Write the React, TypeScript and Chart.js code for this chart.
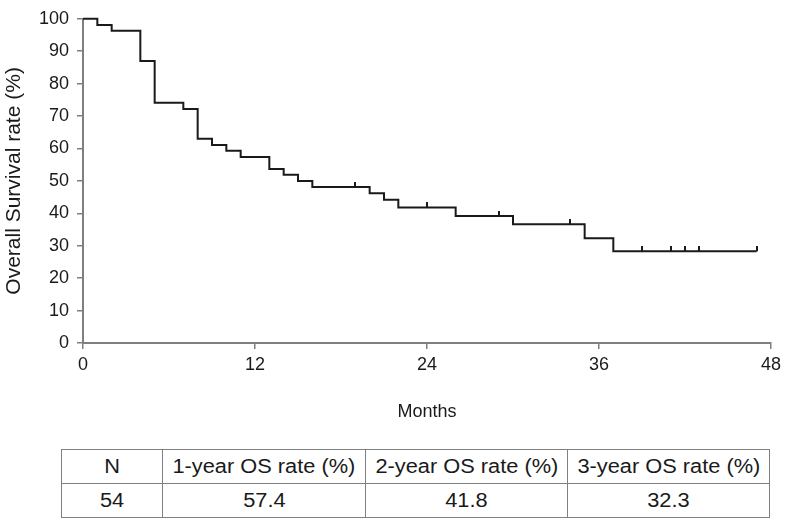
import React, { useEffect, useRef } from 'react';
import { Chart, registerables } from 'chart.js';

Chart.register(...registerables);

// Kaplan-Meier step points (month, overall survival %)
const eventMonths = [0, 1, 2, 4, 5, 7, 8, 9, 10, 11, 13, 14, 15, 16, 20, 21, 22, 26, 30, 35, 37, 47];
const survival = [100, 98.1, 96.3, 87.0, 74.1, 72.2, 63.0, 61.1, 59.3, 57.4, 53.7, 51.9, 50.0, 48.1, 46.2, 44.2, 41.8, 39.2, 36.6, 32.3, 28.3, 28.3];
// censored observations (months)
const censorMonths = [19, 24, 29, 34, 39, 41, 42, 43, 47];
const xTicks = [0, 12, 24, 36, 48];
const yTicks = [0, 10, 20, 30, 40, 50, 60, 70, 80, 90, 100];

const tableHeader = ['N', '1-year OS rate (%)', '2-year OS rate (%)', '3-year OS rate (%)'];
const tableValues = ['54', '57.4', '41.8', '32.3'];
const colWidths = [101, 203, 202, 202];

const FONT = "'Liberation Sans', Arial, sans-serif";
const AXIS_GRAY = '#7f7f7f';
const INK = '#1a1a1a';

function levelAt(t: number): number {
  let v = survival[0];
  for (let i = 0; i < eventMonths.length; i++) {
    if (eventMonths[i] <= t) v = survival[i];
  }
  return v;
}

function makeCensorMark(): HTMLCanvasElement {
  const c = document.createElement('canvas');
  c.width = 2;
  c.height = 10;
  const g = c.getContext('2d')!;
  g.fillStyle = INK;
  g.fillRect(0, 0, 2, 5);
  return c;
}

export default function App() {
  const ref = useRef<HTMLCanvasElement | null>(null);

  useEffect(() => {
    if (!ref.current) return;
    const mark = makeCensorMark();
    const chart = new Chart(ref.current, {
      type: 'line',
      data: {
        datasets: [
          {
            data: eventMonths.map((m, i) => ({ x: m, y: survival[i] })),
            stepped: true,
            borderColor: INK,
            borderWidth: 2,
            pointRadius: 0,
            fill: false,
            clip: false as any,
          },
          {
            data: censorMonths.map((m) => ({ x: m, y: levelAt(m) })),
            showLine: false,
            pointStyle: mark as any,
            pointRadius: 5,
            borderColor: INK,
            backgroundColor: INK,
            clip: false as any,
          },
        ],
      },
      options: {
        responsive: false,
        animation: false,
        events: [],
        devicePixelRatio: 1,
        layout: { padding: { left: 0, right: 13, top: 10, bottom: 0 } },
        plugins: {
          legend: { display: false },
          tooltip: { enabled: false },
        },
        scales: {
          x: {
            type: 'linear',
            min: 0,
            max: 48,
            afterBuildTicks: (s: any) => {
              s.ticks = xTicks.map((v) => ({ value: v }));
            },
            afterFit: (s: any) => {
              s.height = 87;
            },
            grid: {
              display: true,
              drawOnChartArea: false,
              drawTicks: true,
              tickLength: 6,
              color: AXIS_GRAY,
              lineWidth: 1.5,
            },
            border: { display: true, color: AXIS_GRAY, width: 2 },
            ticks: {
              color: INK,
              padding: 5,
              maxRotation: 0,
              font: { family: FONT, size: 18 },
            },
            title: {
              display: true,
              text: 'Months',
              color: INK,
              padding: { top: 0, bottom: 7 },
              font: { family: FONT, size: 18 },
            },
          },
          y: {
            type: 'linear',
            min: 0,
            max: 100,
            afterBuildTicks: (s: any) => {
              s.ticks = yTicks.map((v) => ({ value: v }));
            },
            afterFit: (s: any) => {
              s.width = 83;
            },
            grid: {
              display: true,
              drawOnChartArea: false,
              drawTicks: true,
              tickLength: 6,
              color: AXIS_GRAY,
              lineWidth: 1.5,
            },
            border: { display: true, color: AXIS_GRAY, width: 2 },
            ticks: {
              color: INK,
              padding: 8,
              font: { family: FONT, size: 18 },
            },
            title: {
              display: true,
              text: 'Overall Survival rate (%)',
              color: INK,
              padding: { top: 2, bottom: 0 },
              font: { family: FONT, size: 21 },
            },
          },
        },
      },
    });
    return () => chart.destroy();
  }, []);

  const cell: React.CSSProperties = {
    border: '1.5px solid #808080',
    textAlign: 'center',
    verticalAlign: 'middle',
    padding: 0,
    height: 33,
    fontFamily: FONT,
    fontSize: 20,
    color: INK,
    fontWeight: 'normal',
    whiteSpace: 'nowrap',
  };
  const txt: React.CSSProperties = {
    display: 'inline-block',
    transform: 'scaleX(1.09)',
  };

  return (
    <div style={{ position: 'absolute', left: 0, top: 0, width: 786, height: 521, background: '#fff' }}>
      <canvas ref={ref} width={786} height={430} style={{ position: 'absolute', left: 0, top: 0, width: 786, height: 430 }} />
      <table
        style={{
          position: 'absolute',
          left: 61,
          top: 449,
          width: 708,
          borderCollapse: 'collapse',
          tableLayout: 'fixed',
        }}
      >
        <colgroup>
          {colWidths.map((w, i) => (
            <col key={i} style={{ width: w }} />
          ))}
        </colgroup>
        <tbody>
          <tr>
            {tableHeader.map((h, i) => (
              <td key={i} style={cell}><span style={txt}>{h}</span></td>
            ))}
          </tr>
          <tr>
            {tableValues.map((v, i) => (
              <td key={i} style={cell}><span style={txt}>{v}</span></td>
            ))}
          </tr>
        </tbody>
      </table>
    </div>
  );
}
